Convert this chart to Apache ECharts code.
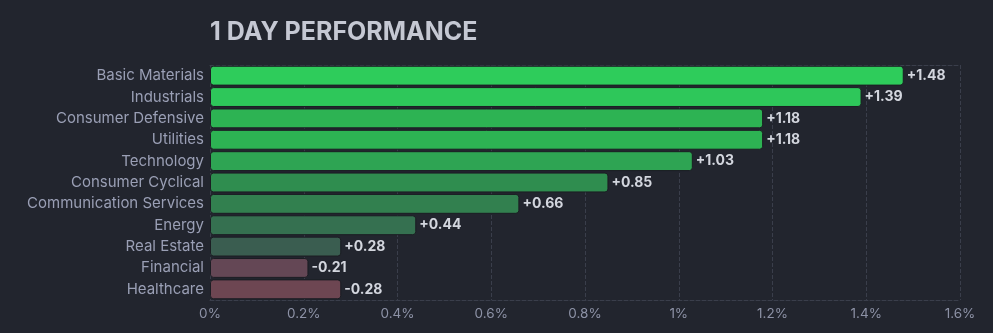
<!DOCTYPE html>
<html>
<head>
<meta charset="utf-8">
<script src="https://cdn.jsdelivr.net/npm/echarts@6/dist/echarts.min.js"></script>
<style>
  html, body { margin: 0; padding: 0; background: #22252e; }
  #chart { width: 993px; height: 333px; }
</style>
</head>
<body>
<div id="chart"></div>
<script>
// Sector performance over one trading day, in percent
const sectors = [
  'Basic Materials', 'Industrials', 'Consumer Defensive', 'Utilities',
  'Technology', 'Consumer Cyclical', 'Communication Services', 'Energy',
  'Real Estate', 'Financial', 'Healthcare'
];
const changes = [1.48, 1.39, 1.18, 1.18, 1.03, 0.85, 0.66, 0.44, 0.28, -0.21, -0.28];
const barColors = [
  '#2ecc5b', '#2ec75a', '#2db353', '#2db353', '#2ea453', '#2f8d4f',
  '#32804f', '#357050', '#3a5d50', '#644755', '#6d4652'
];
const tickValues = [0, 0.2, 0.4, 0.6, 0.8, 1, 1.2, 1.4, 1.6];

const chart = echarts.init(document.getElementById('chart'));

const fontFamily = 'Inter, "Noto Sans", sans-serif';

chart.setOption({
  backgroundColor: '#22252e',
  animation: false,
  title: {
    text: '1 DAY PERFORMANCE',
    left: 205,
    top: 15,
    textStyle: { color: '#c5c8d3', fontSize: 25, fontWeight: 'bold', fontFamily }
  },
  grid: { left: 210, right: 33, top: 65, bottom: 33 },
  xAxis: [{
    type: 'value',
    min: tickValues[0],
    max: tickValues[tickValues.length - 1],
    interval: 0.2,
    axisLine: { show: true, lineStyle: { color: '#3a3e4b', type: 'dashed' } },
    axisTick: { show: false },
    axisLabel: {
      color: '#8d92a6', fontSize: 13.5, fontFamily, margin: 7,
      formatter: v => parseFloat(v.toFixed(1)) + '%'
    },
    splitLine: { show: true, lineStyle: { color: '#3a3e4b', type: 'dashed' } }
  }, {
    type: 'value',
    position: 'top',
    min: tickValues[0],
    max: tickValues[tickValues.length - 1],
    interval: 0.2,
    axisLine: { show: true, lineStyle: { color: '#3a3e4b', type: 'dashed' } },
    axisTick: { show: false },
    axisLabel: { show: false },
    splitLine: { show: false }
  }],
  yAxis: {
    type: 'category',
    data: sectors,
    inverse: true,
    axisLine: { show: false },
    axisTick: { show: false },
    axisLabel: { color: '#9a9fb5', fontSize: 15, fontFamily, margin: 6 }
  },
  series: [{
    type: 'bar',
    xAxisIndex: 0,
    barCategoryGap: '7%',
    data: changes.map((v, i) => ({
      value: Math.abs(v),
      itemStyle: { color: barColors[i] }
    })),
    itemStyle: { borderRadius: 3, borderColor: '#1b1d23', borderWidth: 1 },
    label: {
      show: true,
      position: 'right',
      distance: 3,
      color: '#d3d6de',
      fontSize: 14,
      fontWeight: 'bold',
      fontFamily,
      formatter: p => (changes[p.dataIndex] >= 0 ? '+' : '') + changes[p.dataIndex].toFixed(2)
    }
  }]
});
</script>
</body>
</html>
